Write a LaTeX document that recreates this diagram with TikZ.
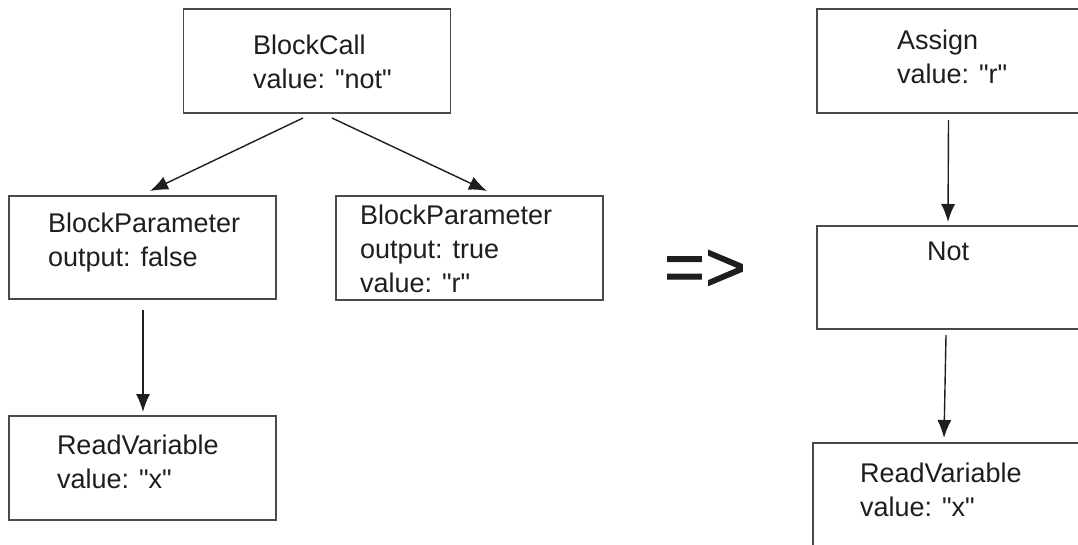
\documentclass[tikz,border=0pt]{standalone}
\usepackage{fontspec}
\setmainfont{Liberation Sans}[Ligatures=TeXOff]
\newfontfamily\signfont{Liberation Sans}[FakeBold=1.2]
\usetikzlibrary{calc,arrows.meta}
\definecolor{ink}{HTML}{1E1E1E}
\definecolor{edge}{HTML}{4A4A4A}
% straight double quote
\newcommand\sq{\symbol{34}}
\tikzset{
  box/.style={draw=edge, line width=1.6pt, fill=white, inner sep=0pt, outer sep=0pt,
              minimum width=267pt, minimum height=104pt},
  label/.style={inner sep=0pt, outer sep=0pt, text=ink, align=left,
                font=\fontsize{27}{34}\selectfont},
  conn/.style={draw=ink, line width=1.4pt, -{Latex[length=18pt,width=14pt]}},
}
\begin{document}
\begin{tikzpicture}[x=1pt,y=-1pt]
\useasboundingbox (0,0) rectangle (1078,544);
\clip (0,0) rectangle (1078,544);

% left tree: block call with its parameters
\node[box] (bc)  at (317,61)    {};
\node[box, minimum height=103pt] (lbp) at (142.5,247.5) {};
\node[box] (rbp) at (469.5,248) {};
\node[box] (lrv) at (142.5,468) {};

\node[label, anchor=north west] (bct)  at (253,35.3)  {BlockCall\\value: \sq not\sq};
\node[label, anchor=north west] (lbpt) at (48,213.3)  {BlockParameter\\output: false};
\node[label, anchor=north west] (rbpt) at (360,205.3) {BlockParameter\\output: true\\value: \sq r\sq};
\node[label, anchor=north west] (lrvt) at (57,435.3)  {ReadVariable\\value: \sq x\sq};

% right tree: rewritten form
\node[box] (asg) at (950.5,61)   {};
\node[box, minimum height=103pt] (nt)  at (950.5,277.5) {};
\node[box] (rrv) at (946.5,495)  {};

\node[label, anchor=north west] (asgt) at (897,30.3)  {Assign\\value: \sq r\sq};
\node[label, anchor=north]      (ntt)  at (948,241.7) {Not};
\node[label, anchor=north west] (rrvt) at (860,463.3) {ReadVariable\\value: \sq x\sq};

% transformation sign
\node[inner sep=0pt, text=ink, font=\signfont\fontsize{70}{70}\selectfont] (sign) at (705,270.5) {=>};

% connectors
\draw[conn] ($(bc.south)+(-14,5)$)  -- ($(lbp.north)+(7.5,-5)$);
\draw[conn] ($(bc.south)+(15,5)$)   -- ($(rbp.north)+(17.5,-5)$);
\draw[conn] ($(lbp.south)+(0.5,11)$) -- ($(lrv.north)+(0.5,-4)$);
\draw[conn] ($(asg.south)+(-2,7)$)  -- ($(nt.north)+(-2.5,-4)$);
\draw[conn] ($(nt.south)+(-4.5,6)$) -- ($(rrv.north)+(-2.5,-5)$);
\end{tikzpicture}
\end{document}
